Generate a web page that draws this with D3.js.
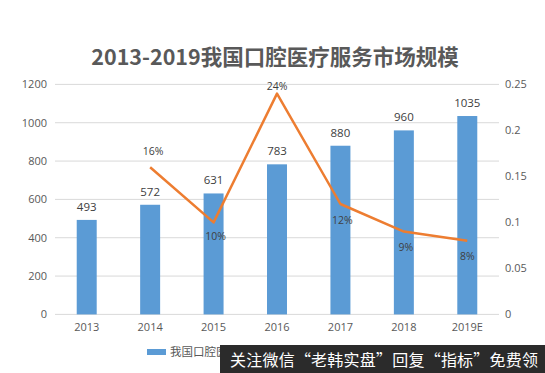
<!DOCTYPE html>
<html><head><meta charset="utf-8">
<script src="https://cdn.jsdelivr.net/npm/d3@7"></script>
<style>body{margin:0;background:#fff;}svg{display:block;font-family:"Open Sans","Noto Sans CJK SC",sans-serif;}</style>
</head><body><svg id="c" width="545" height="373"></svg>
<script>
const categories = ["2013","2014","2015","2016","2017","2018","2019E"];
const marketSize = [493,572,631,783,880,960,1035];
const growthYears = ["2014","2015","2016","2017","2018","2019E"];
const growthRate = [0.16,0.10,0.24,0.12,0.09,0.08];
const growthLabels = ["16%","10%","24%","12%","9%","8%"];
const leftTicks = [0,200,400,600,800,1000,1200];
const rightTicks = [0,0.05,0.1,0.15,0.2,0.25];
const titleText = "2013-2019我国口腔医疗服务市场规模";
const legendBar = "我国口腔医疗服务市场规模";
const watermark = "关注微信“老韩实盘”回复“指标”免费领";

const svg = d3.select("#c");
const L = 55, R = 499, T = 84.4, B = 314.4;
const x = d3.scaleBand().domain(categories).range([L, R]).paddingInner(0.685).paddingOuter(0.3425);
const y = d3.scaleLinear().domain([0,1200]).range([B, T]);
const y2 = d3.scaleLinear().domain([0,0.25]).range([B, T]);
const grey = "#595959";

svg.append("text").attr("x", 275).attr("y", 65).attr("text-anchor","middle")
  .attr("font-size", 21.5).attr("font-weight","bold").attr("fill","#595959")
  .attr("font-family","'Noto Sans CJK SC','Open Sans',sans-serif").text(titleText);

// gridlines
svg.append("g").selectAll("line").data(leftTicks).join("line")
  .attr("x1", L).attr("x2", R).attr("y1", d=>y(d)).attr("y2", d=>y(d))
  .attr("stroke", "#d9d9d9").attr("stroke-width", 1);

// left axis
const ax = svg.append("g").attr("transform",`translate(${L},0)`)
  .call(d3.axisLeft(y).tickValues(leftTicks).tickSize(0).tickPadding(8).tickFormat(d=>String(d)));
ax.select(".domain").remove();
ax.selectAll("text").attr("font-size", 11).attr("fill", grey).attr("font-family","'Open Sans',sans-serif");

// right axis
const ax2 = svg.append("g").attr("transform",`translate(${R},0)`)
  .call(d3.axisRight(y2).tickValues(rightTicks).tickSize(0).tickPadding(6).tickFormat(d=>String(d)));
ax2.select(".domain").remove();
ax2.selectAll("text").attr("font-size", 11).attr("fill", grey).attr("font-family","'Open Sans',sans-serif");

// bottom axis
const bx = svg.append("g").attr("transform",`translate(0,${B})`)
  .call(d3.axisBottom(x).tickSize(0).tickPadding(9));
bx.select(".domain").remove();
bx.selectAll("text").attr("font-size", 11).attr("fill", grey).attr("font-family","'Open Sans',sans-serif");

// bars
svg.append("g").selectAll("rect").data(marketSize).join("rect")
  .attr("x", (d,i)=>x(categories[i])).attr("width", x.bandwidth())
  .attr("y", d=>y(d)).attr("height", d=>B - y(d)).attr("fill", "#5B9BD5");

svg.append("g").selectAll("text").data(marketSize).join("text")
  .attr("x", (d,i)=>x(categories[i]) + x.bandwidth()/2).attr("y", d=>y(d) - 9)
  .attr("text-anchor","middle").attr("font-size", 11.5).attr("fill", "#404040")
  .attr("font-family","'Open Sans',sans-serif").text(d=>d);

// line
const cx = c => x(c) + x.bandwidth()/2;
const line = d3.line().x((d,i)=>cx(growthYears[i])).y(d=>y2(d));
svg.append("path").datum(growthRate).attr("d", line).attr("fill","none")
  .attr("stroke", "#ED7D31").attr("stroke-width", 2.5).attr("stroke-linejoin","round");

const lblOffset = [-12, 18, -4, 20, 19, 19];
const lblDx = [3, 2, 0, 2, 2, 0];
svg.append("g").selectAll("text").data(growthRate).join("text")
  .attr("x", (d,i)=>cx(growthYears[i]) + lblDx[i]).attr("y", (d,i)=>y2(d) + lblOffset[i])
  .attr("text-anchor","middle").attr("font-size", 10.5).attr("fill", "#404040")
  .attr("font-family","'Open Sans',sans-serif").text((d,i)=>growthLabels[i]);

// legend (partly hidden under the overlay)
svg.append("defs").append("clipPath").attr("id","lg").append("rect")
  .attr("x",140).attr("y",340).attr("width",80).attr("height",33);
svg.append("rect").attr("x",147).attr("y",349).attr("width",19).attr("height",6).attr("fill","#5B9BD5");
svg.append("text").attr("x",170).attr("y",356).attr("font-size",11.5).attr("fill",grey)
  .attr("clip-path","url(#lg)")
  .attr("font-family","'Noto Sans CJK SC',sans-serif").text(legendBar);

// watermark overlay
svg.append("rect").attr("x",220).attr("y",345).attr("width",325).attr("height",28).attr("fill","#2b2b2b");
svg.append("text").attr("x",230).attr("y",366).attr("font-size",16).attr("fill","#ffffff")
  .attr("textLength",308).attr("lengthAdjust","spacing")
  .attr("font-family","'Noto Sans CJK SC',sans-serif").text(watermark);
</script></body></html>
